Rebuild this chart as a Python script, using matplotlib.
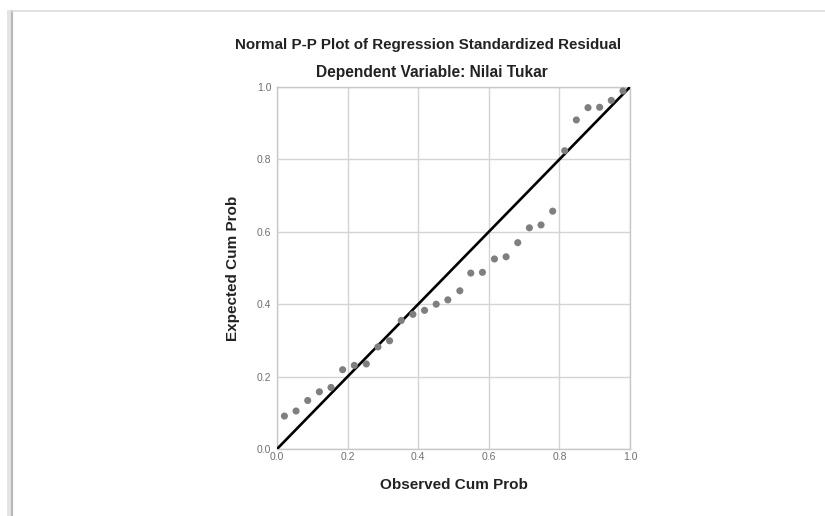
import matplotlib.pyplot as plt
from matplotlib.patches import Rectangle
from matplotlib.lines import Line2D

# observed vs expected cumulative probabilities
observed = [0.021, 0.054, 0.087, 0.120, 0.153, 0.186, 0.219, 0.253, 0.286, 0.319,
            0.352, 0.385, 0.418, 0.451, 0.484, 0.518, 0.549, 0.582, 0.616, 0.649,
            0.682, 0.715, 0.748, 0.781, 0.815, 0.848, 0.881, 0.914, 0.947, 0.980]
expected = [0.091, 0.105, 0.134, 0.158, 0.170, 0.219, 0.231, 0.235, 0.282, 0.299,
            0.355, 0.372, 0.383, 0.400, 0.412, 0.437, 0.486, 0.488, 0.525, 0.531,
            0.570, 0.611, 0.619, 0.657, 0.824, 0.909, 0.943, 0.944, 0.963, 0.989]
ref_line = [0.0, 1.0]
ticks = [0.0, 0.2, 0.4, 0.6, 0.8, 1.0]
tick_labels = ['0.0', '0.2', '0.4', '0.6', '0.8', '1.0']

plt.rcParams['font.family'] = ['Liberation Sans', 'DejaVu Sans']

fig = plt.figure(figsize=(8.25, 5.16), dpi=100)
fig.patch.set_facecolor('white')

# panel frame with a soft shadow on the left
fig.add_artist(Rectangle((0.009, -0.01), 0.006, 0.99, transform=fig.transFigure,
                         facecolor='#e4e4e4', edgecolor='none'))
fig.add_artist(Line2D([12 / 825, 12 / 825], [0, 1 - 11 / 516], transform=fig.transFigure,
                      color='#b8b8b8', lw=1.5))
fig.add_artist(Line2D([12 / 825, 1], [1 - 11 / 516, 1 - 11 / 516], transform=fig.transFigure,
                      color='#dcdcdc', lw=1.2))

ax = fig.add_axes([277 / 825, 1 - 449 / 516, 353 / 825, 362 / 516])
ax.set_xlim(0, 1)
ax.set_ylim(0, 1)
ax.set_xticks(ticks)
ax.set_yticks(ticks)
ax.set_xticklabels(tick_labels)
ax.set_yticklabels(tick_labels)
ax.grid(True, color='#d4d4d4', lw=1)
ax.set_axisbelow(True)
for s in ax.spines.values():
    s.set_color('#c8c8c8')
    s.set_linewidth(1)
ax.tick_params(length=0, labelsize=7.5, colors='#707070', pad=4)
ax.tick_params(axis='x', pad=2)

ax.plot(ref_line, ref_line, color='black', lw=1.9, zorder=3)
ax.scatter(observed, expected, s=26, color='#7f7f7f', edgecolors='none', zorder=4, clip_on=False)

ax.set_xlabel('Observed Cum Prob', fontsize=11, fontweight='bold', color='#222222', labelpad=12)
ax.set_ylabel('Expected Cum Prob', fontsize=11, fontweight='bold', color='#222222', labelpad=12)

fig.text(428 / 825, 1 - 45 / 516, 'Normal P-P Plot of Regression Standardized Residual',
         ha='center', va='center', fontsize=10.9, fontweight='bold', color='#222222')
fig.text(432 / 825, 1 - 73 / 516, 'Dependent Variable: Nilai Tukar',
         ha='center', va='center', fontsize=11.2, fontweight='bold', color='#222222')

fig.savefig('out.png', dpi=100)
